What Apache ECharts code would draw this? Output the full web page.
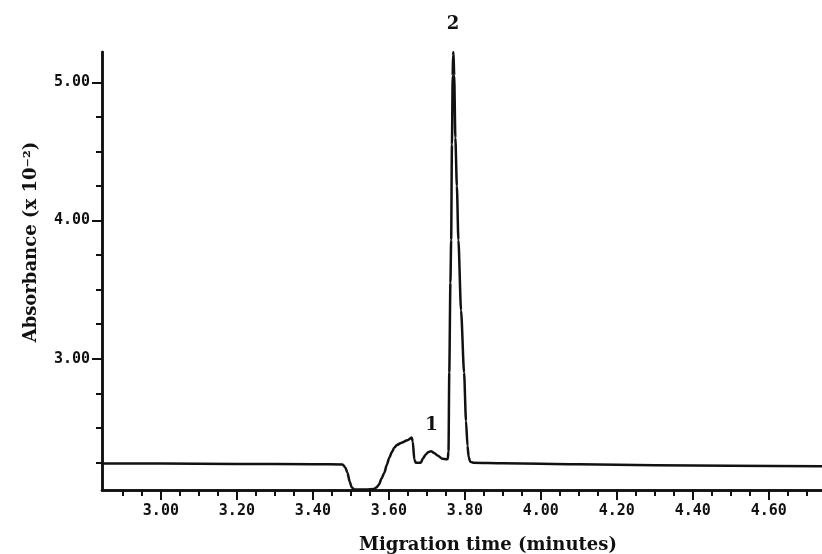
<!DOCTYPE html>
<html>
<head>
<meta charset="utf-8">
<script src="https://cdn.jsdelivr.net/npm/echarts@6/dist/echarts.min.js"></script>
<style>
html, body { margin: 0; padding: 0; background: #fff; }
#chart { width: 822px; height: 554px; }
</style>
</head>
<body>
<div id="chart"></div>
<script>
// electropherogram: migration time (min) vs absorbance (x 10^-2)
const migrationTime = [
  2.845, 3.00, 3.20, 3.40, 3.478, 3.485, 3.491, 3.497, 3.502, 3.509,
  3.540, 3.561, 3.568, 3.574, 3.581, 3.588, 3.595, 3.601, 3.608, 3.614,
  3.622, 3.632, 3.649, 3.660, 3.663, 3.667, 3.671, 3.684, 3.690, 3.697,
  3.704, 3.711, 3.719, 3.728, 3.741, 3.752, 3.755, 3.757, 3.759, 3.762,
  3.764, 3.766, 3.768, 3.769, 3.770, 3.772, 3.775, 3.779, 3.783, 3.790,
  3.798, 3.803, 3.807, 3.810, 3.814, 3.822, 3.90, 4.10, 4.30, 4.50, 4.74
]
const absorbance = [
  2.242, 2.241, 2.239, 2.237, 2.235, 2.215, 2.175, 2.11, 2.07, 2.054,
  2.054, 2.057, 2.07, 2.09, 2.135, 2.175, 2.235, 2.283, 2.325, 2.355,
  2.377, 2.391, 2.41, 2.43, 2.40, 2.271, 2.247, 2.247, 2.28, 2.307,
  2.325, 2.331, 2.318, 2.30, 2.276, 2.272, 2.275, 2.33, 2.90, 3.55,
  3.86, 4.55, 5.05, 5.20, 5.22, 5.05, 4.60, 4.25, 3.86, 3.35,
  2.90, 2.55, 2.37, 2.29, 2.255, 2.247, 2.243, 2.236, 2.230, 2.225, 2.222
]

const xMajorTicks = [3.0, 3.2, 3.4, 3.6, 3.8, 4.0, 4.2, 4.4, 4.6]
const xMinorTicks = [
  2.90, 2.95, 3.05, 3.10, 3.15, 3.25, 3.30, 3.35, 3.45, 3.50, 3.55,
  3.65, 3.70, 3.75, 3.85, 3.90, 3.95, 4.05, 4.10, 4.15, 4.25, 4.30, 4.35,
  4.45, 4.50, 4.55, 4.65, 4.70
]
const yMajorTicks = [3.0, 4.0, 5.0]
const yMinorTicks = [2.25, 2.5, 2.75, 3.25, 3.5, 3.75, 4.25, 4.5, 4.75]

const peakNames = ['1', '2']
const peakTimes = [3.712, 3.769]
const peakLabelLevels = [2.52, 5.42]

const xRange = [2.845, 4.74]
const yRange = [2.05, 5.22]

const tickFont = 'DejaVu Sans Mono'
const ink = '#111'

function axisBase(min, max) {
  return {
    type: 'value',
    min: min,
    max: max,
    splitLine: { show: false },
    axisLine: { show: true, lineStyle: { color: ink, width: 2.5 } }
  }
}

const chart = echarts.init(document.getElementById('chart'))

const option = {
  animation: false,
  backgroundColor: '#fff',
  grid: { left: 102, right: 0, top: 52, bottom: 64 },
  xAxis: [
    Object.assign(axisBase(xRange[0], xRange[1]), {
      position: 'bottom',
      axisTick: { show: true, length: 6, customValues: xMinorTicks, lineStyle: { color: ink, width: 2 } },
      axisLabel: { show: false }
    }),
    Object.assign(axisBase(xRange[0], xRange[1]), {
      position: 'bottom',
      axisTick: { show: true, length: 10, customValues: xMajorTicks, lineStyle: { color: ink, width: 2 } },
      axisLabel: {
        show: true,
        customValues: xMajorTicks,
        margin: 14,
        color: ink,
        fontFamily: tickFont,
        fontWeight: 'bold',
        fontSize: 15,
        formatter: v => v.toFixed(2)
      }
    })
  ],
  yAxis: [
    Object.assign(axisBase(yRange[0], yRange[1]), {
      position: 'left',
      axisTick: { show: true, length: 6, customValues: yMinorTicks, lineStyle: { color: ink, width: 2 } },
      axisLabel: { show: false }
    }),
    Object.assign(axisBase(yRange[0], yRange[1]), {
      position: 'left',
      axisTick: { show: true, length: 10, customValues: yMajorTicks, lineStyle: { color: ink, width: 2 } },
      axisLabel: {
        show: true,
        customValues: yMajorTicks,
        margin: 12,
        color: ink,
        fontFamily: tickFont,
        fontWeight: 'bold',
        fontSize: 15,
        formatter: v => v.toFixed(2)
      }
    })
  ],
  series: [
    {
      type: 'line',
      xAxisIndex: 0,
      yAxisIndex: 0,
      data: migrationTime.map((t, i) => [t, absorbance[i]]),
      showSymbol: false,
      smooth: 0.25,
      smoothMonotone: 'x',
      lineStyle: { color: ink, width: 2.5, join: 'round', cap: 'round' }
    }
  ],
  graphic: [
    {
      type: 'text',
      x: 31,
      y: 242,
      rotation: Math.PI / 2,
      style: {
        text: 'Absorbance (x 10⁻²)',
        font: 'bold 18px "DejaVu Serif"',
        fill: ink,
        align: 'center',
        verticalAlign: 'middle'
      }
    },
    {
      type: 'text',
      x: 488,
      y: 545,
      style: {
        text: 'Migration time (minutes)',
        font: 'bold 18px "DejaVu Serif"',
        fill: ink,
        align: 'center',
        verticalAlign: 'middle'
      }
    }
  ]
}

chart.setOption(option)

// peak numbers placed through the axes' own scale
const peakMarks = peakNames.map((n, i) => {
  const p = chart.convertToPixel({ gridIndex: 0 }, [peakTimes[i], peakLabelLevels[i]])
  return {
    type: 'text',
    x: p[0],
    y: p[1],
    style: {
      text: n,
      font: 'bold 18px "DejaVu Serif"',
      fill: ink,
      align: 'center',
      verticalAlign: 'middle'
    }
  }
})
chart.setOption({ graphic: option.graphic.concat(peakMarks) })
</script>
</body>
</html>
